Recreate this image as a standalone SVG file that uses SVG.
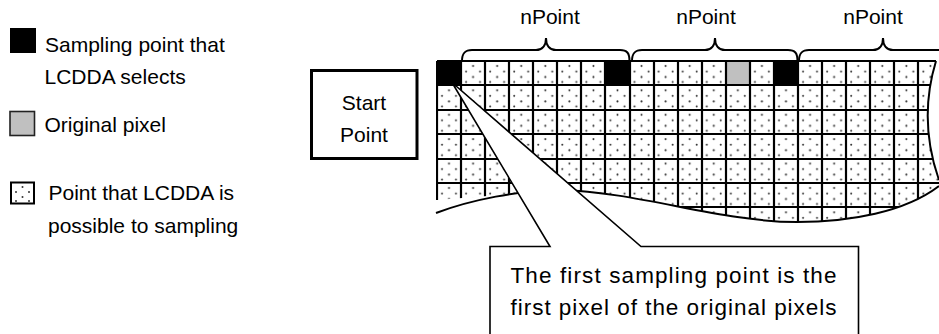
<svg xmlns="http://www.w3.org/2000/svg" width="939" height="334" viewBox="0 0 939 334">
<style>
text{font-family:"Liberation Sans",Arial,sans-serif;font-size:21px;fill:#000}
.g{stroke:#000;stroke-width:2.2;fill:none}
.edge{stroke:#000;stroke-width:2;fill:none}
.co{font-size:22.5px}
</style>
<defs>
<pattern id="dots" patternUnits="userSpaceOnUse" x="437" y="61" width="24.07" height="24.4">
<rect width="24.07" height="24.4" fill="#fff"/>
<g fill="#333">
<circle cx="12" cy="5" r="1"/><circle cx="5" cy="10.5" r="1"/><circle cx="19" cy="10.5" r="1"/>
<circle cx="12" cy="16" r="1"/><circle cx="5" cy="21" r="1"/><circle cx="19" cy="21" r="1"/>
</g>
</pattern>
<pattern id="ldots" patternUnits="userSpaceOnUse" x="11" y="182" width="23" height="22">
<rect width="23" height="22" fill="#fff"/>
<g fill="#333">
<circle cx="11.5" cy="5" r="1"/><circle cx="5" cy="10" r="1"/><circle cx="18" cy="10" r="1"/>
<circle cx="11.5" cy="15" r="1"/><circle cx="5" cy="19" r="1"/><circle cx="18" cy="19" r="1"/>
</g>
</pattern>
<clipPath id="gridclip">
<path d="M437,61 L936,61 Q918,120 939,180 L939,186 C905,212 850,222 797,222 C720,222 640,192 560,190 C530,190 517,193 500,195 L437,200 Z"/>
</clipPath>
</defs>
<rect width="939" height="334" fill="#fff"/>

<g id="legend">
<rect x="10" y="28" width="26" height="25" fill="#000"/>
<text x="45" y="52">Sampling point that</text>
<text x="44.5" y="84">LCDDA selects</text>
<rect x="10" y="111.5" width="24.5" height="24" fill="#c0c0c0" stroke="#222" stroke-width="1.6"/>
<text x="44.5" y="131.5">Original pixel</text>
<rect x="11" y="182.5" width="23" height="21" fill="url(#ldots)" stroke="#000" stroke-width="2"/>
<text x="48.5" y="200">Point that LCDDA is</text>
<text x="48" y="232.5">possible to sampling</text>
</g>

<g id="start-point">
<rect x="311.5" y="70.5" width="105.5" height="88" fill="#fff" stroke="#000" stroke-width="3"/>
<text x="364" y="110" text-anchor="middle">Start</text>
<text x="364" y="141.5" text-anchor="middle">Point</text>
</g>

<g id="grid">
<g clip-path="url(#gridclip)">
<rect x="437" y="61" width="502" height="170" fill="url(#dots)"/>
<rect x="437" y="61" width="24" height="24" fill="#000"/>
<rect x="605" y="61" width="25" height="24" fill="#000"/>
<rect x="774" y="61" width="24" height="24" fill="#000"/>
<rect x="726" y="61" width="24" height="24" fill="#c0c0c0"/>
<path class="g" d="M437,61V231M461,61V231M485,61V231M509,61V231M533,61V231M557,61V231M581,61V231M605,61V231M630,61V231M654,61V231M678,61V231M702,61V231M726,61V231M750,61V231M774,61V231M798,61V231M822,61V231M846,61V231M870,61V231M894,61V231M918,61V231"/>
<path class="g" d="M437,61H939M437,85H939M437,110H939M437,134H939M437,159H939M437,183H939M437,207H939"/>
</g>
<path class="edge" d="M437,61V200"/>
<path class="edge" d="M437,61H936"/>
<path class="edge" d="M936,61 Q918,120 939,180"/>
<path class="edge" d="M939,186 C905,212 850,222 797,222 C720,222 640,192 560,190 C520,190 470,200 436,213"/>
</g>

<g id="braces">
<path class="edge" stroke-width="1.8" d="M462,61 C462,53 465,50 472,50 L536,50 C542,50 546,46 546,38 C546,46 550,50 556,50 L620,50 C627,50 629.5,53 629.5,61"/>
<path class="edge" stroke-width="1.8" d="M632,61 C632,53 635,50 642,50 L705,50 C711,50 715,46 715,38 C715,46 719,50 725,50 L788,50 C795,50 797.5,53 797.5,61"/>
<path class="edge" stroke-width="1.8" d="M799,61 C799,53 802,50 809,50 L873,50 C879,50 883,46 883,38 C883,46 887,50 893,50 L957,50 C964,50 967,53 967,61"/>
<text x="550" y="24" text-anchor="middle">nPoint</text>
<text x="706" y="24" text-anchor="middle">nPoint</text>
<text x="873" y="24" text-anchor="middle">nPoint</text>
</g>

<g id="callout">
<path d="M490,340 L490,246.5 L550,246.5 L452,82.5 L641,246.5 L858.5,246.5 L858.5,340" fill="#fff" stroke="#000" stroke-width="1.6"/>
<text class="co" x="510.5" y="283" textLength="326" lengthAdjust="spacing">The first sampling point is the</text>
<text class="co" x="510.5" y="314.5" textLength="326" lengthAdjust="spacing">first pixel of the original pixels</text>
</g>
</svg>
